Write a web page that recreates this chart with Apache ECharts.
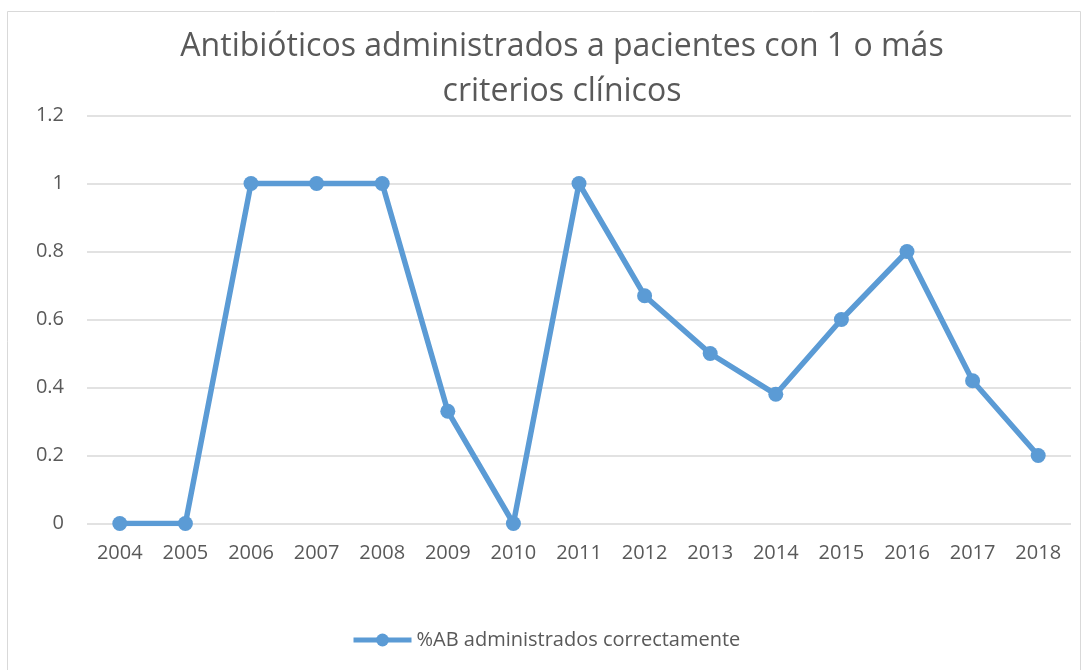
<!DOCTYPE html>
<html>
<head>
<meta charset="utf-8">
<script src="https://cdn.jsdelivr.net/npm/echarts@6/dist/echarts.min.js"></script>
<style>
html,body{margin:0;padding:0;background:#fff;}
#chart{width:1083px;height:670px;}
</style>
</head>
<body>
<div id="chart"></div>
<script>
const titleText = 'Antibióticos administrados a pacientes con 1 o más\ncriterios clínicos';
const years = ['2004','2005','2006','2007','2008','2009','2010','2011','2012','2013','2014','2015','2016','2017','2018'];
const seriesName = '%AB administrados correctamente';
const values = [0, 0, 1, 1, 1, 0.33, 0, 1, 0.67, 0.5, 0.38, 0.6, 0.8, 0.42, 0.2];

const font = '"Open Sans", "Liberation Sans", sans-serif';
const chart = echarts.init(document.getElementById('chart'));
chart.setOption({
  backgroundColor: '#ffffff',
  animation: false,
  title: {
    text: titleText,
    left: 557,
    textAlign: 'center',
    top: 19,
    padding: 5,
    textStyle: {
      fontFamily: font,
      fontSize: 32,
      fontWeight: 'normal',
      color: '#595959',
      lineHeight: 45
    }
  },
  graphic: [{
    type: 'rect',
    shape: { x: 7.5, y: 11.5, width: 1073, height: 670 },
    style: { fill: 'none', stroke: '#d9d9d9', lineWidth: 1 },
    silent: true,
    z: -1
  }],
  legend: {
    data: [seriesName],
    left: 346,
    top: 625,
    itemWidth: 58,
    itemHeight: 16,
    textStyle: { fontFamily: font, fontSize: 20, color: '#595959' },
    lineStyle: { width: 5 }
  },
  grid: {
    left: 87,
    right: 12,
    top: 115.5,
    bottom: 146.5,
    containLabel: false,
    outerBoundsMode: 'none'
  },
  xAxis: {
    type: 'category',
    data: years,
    boundaryGap: true,
    axisLine: { show: false },
    axisTick: { show: false },
    axisLabel: {
      fontFamily: font,
      fontSize: 20,
      color: '#595959',
      margin: 20
    }
  },
  yAxis: {
    type: 'value',
    min: 0,
    max: 1.2,
    interval: 0.2,
    axisLine: { show: false },
    axisTick: { show: false },
    axisLabel: {
      fontFamily: font,
      fontSize: 20,
      color: '#595959',
      margin: 23,
      formatter: function (v) { return String(Math.round(v * 10) / 10); }
    },
    splitLine: { lineStyle: { color: '#d9d9d9', width: 1.5 } }
  },
  series: [{
    name: seriesName,
    type: 'line',
    data: values,
    symbol: 'circle',
    symbolSize: 15,
    lineStyle: { color: '#5b9bd5', width: 5.5 },
    itemStyle: { color: '#5b9bd5' }
  }]
});
</script>
</body>
</html>
